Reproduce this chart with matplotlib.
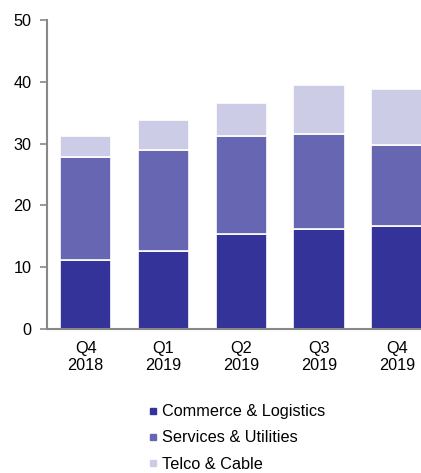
import matplotlib
matplotlib.use("Agg")
import matplotlib.pyplot as plt
from matplotlib.lines import Line2D

categories = ["Q4\n2018", "Q1\n2019", "Q2\n2019", "Q3\n2019", "Q4\n2019"]
series_names = ["Commerce & Logistics", "Services & Utilities", "Telco & Cable"]
commerce = [11.1, 12.6, 15.4, 16.2, 16.6]
services = [16.7, 16.4, 15.8, 15.3, 13.2]
telco = [3.5, 4.8, 5.3, 8.0, 9.1]
colors = ["#333399", "#6666B3", "#CCCCE6"]
yticks = [0, 10, 20, 30, 40, 50]

plt.rcParams['font.family'] = ['Liberation Sans', 'DejaVu Sans']
FS = 11.7

fig = plt.figure(figsize=(4.21, 4.73), dpi=100)
ax = fig.add_axes([0.111, 0.3044, 0.889, 0.6533])

x = list(range(len(categories)))
bottoms = [0] * len(categories)
for vals, col, name in zip([commerce, services, telco], colors, series_names):
    ax.bar(x, vals, bottom=bottoms, width=0.66, color=col, edgecolor="white",
           linewidth=1.2, label=name)
    bottoms = [b + v for b, v in zip(bottoms, vals)]

ax.set_ylim(0, 50)
ax.set_xlim(-0.5, 4.31)
ax.set_yticks(yticks)
ax.set_xticks(x)
ax.set_xticklabels(categories, fontsize=FS, linespacing=1.2)
ax.tick_params(axis='y', labelsize=FS, length=5, color="#888888", width=1.2, pad=6)
ax.tick_params(axis='x', length=0, pad=8.5)
for s in ["top", "right"]:
    ax.spines[s].set_visible(False)
for s in ["left", "bottom"]:
    ax.spines[s].set_color("#888888")
    ax.spines[s].set_linewidth(1.5)

handles = [Line2D([], [], marker='s', linestyle='none', markersize=4,
                  markerfacecolor=c, markeredgecolor=c) for c in colors]
fig.legend(handles, series_names, loc="upper left", bbox_to_anchor=(0.3527, 0.145),
           frameon=False, fontsize=FS, handlelength=0.5, handletextpad=0.32,
           labelspacing=0.68, borderaxespad=0, borderpad=0)

fig.savefig("out.png", dpi=100)
